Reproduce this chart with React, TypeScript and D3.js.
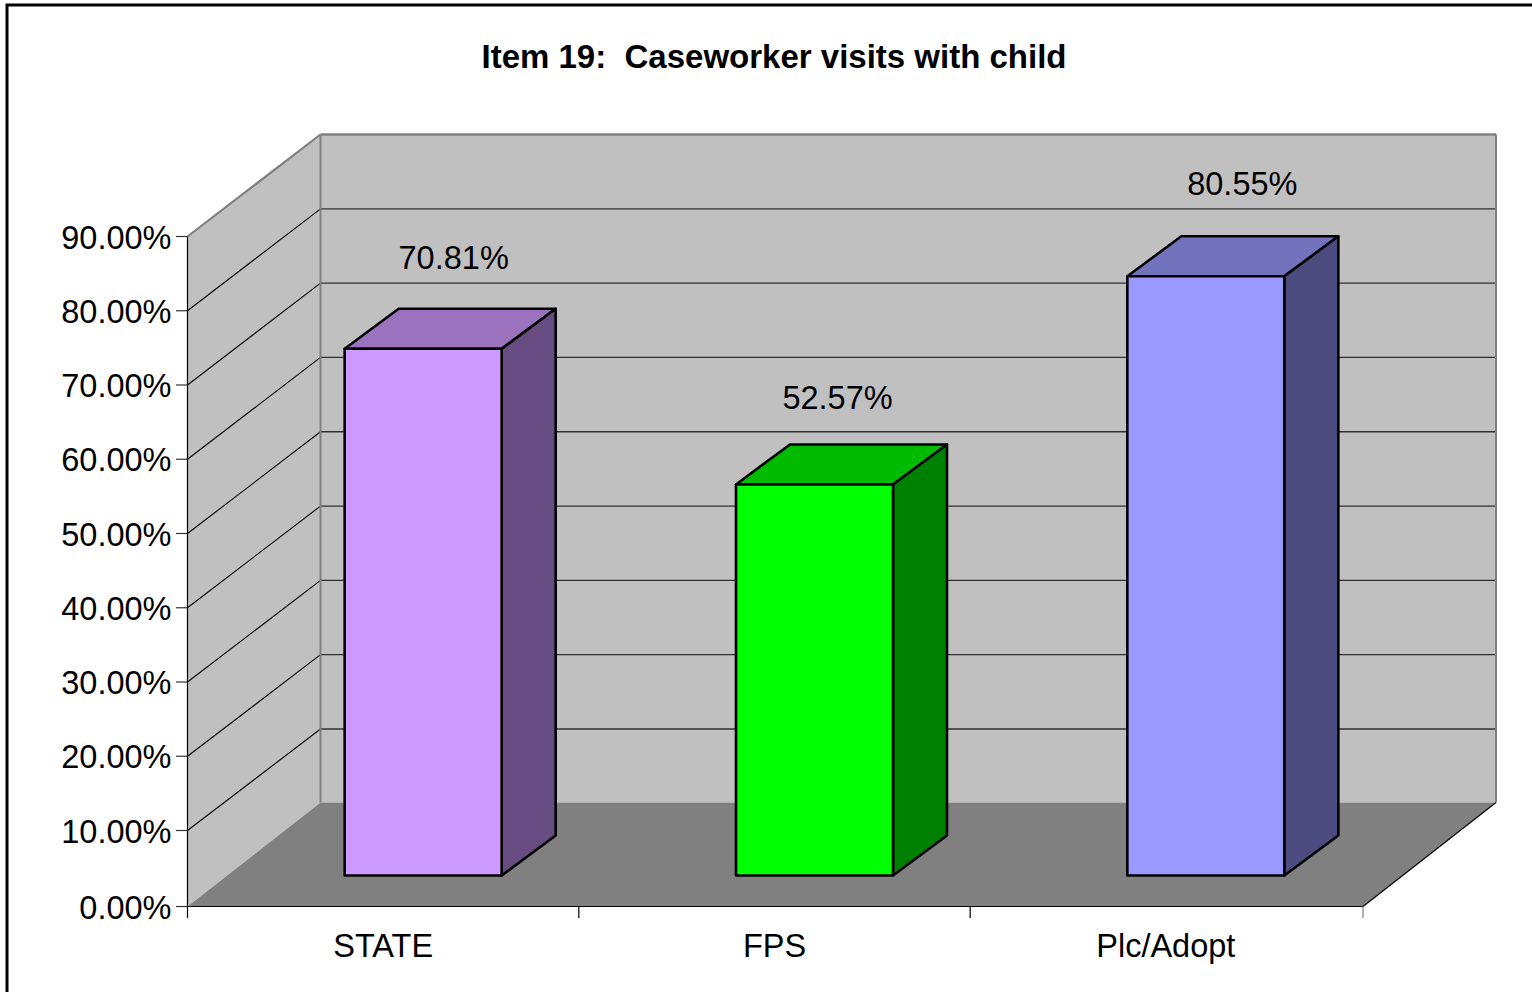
import React from "react";
import * as d3 from "d3";

const categories = ["STATE", "FPS", "Plc/Adopt"];
const values = [70.81, 52.57, 80.55];
const valueLabels = ["70.81%", "52.57%", "80.55%"];
const frontFills = ["#CC99FF", "#00FF00", "#9999FF"];
const topFills = ["#9B72BD", "#00BB00", "#7272BD"];
const sideFills = ["#664C80", "#008000", "#4C4C80"];
const tickValues = [0, 10, 20, 30, 40, 50, 60, 70, 80, 90];
const titleText = "Item 19:  Caseworker visits with child";

const FONT = "'Liberation Sans', Arial, sans-serif";
const DX = 133;
const floorEnd = 1363;
const barDepthX = 54;
const barDepthY = 40;
const barNearX = 40;

const x = d3.scaleBand<string>().domain(categories).range([187.5, 1361.5]);
const yFront = d3.scaleLinear().domain([0, 10, 90]).range([906.5, 830.5, 236.5]);
const yBack = d3.scaleLinear().domain([0, 10, 90]).range([802.5, 729, 134.5]);
const barH = d3.scaleLinear().domain([0, 90]).range([0, 669.5]);

const pts = (p: number[][]) => p.map((q) => q.join(",")).join(" ");

export default function App() {
  const x0 = x.range()[0];
  const bw = x.bandwidth();
  const backW = floorEnd - x0;
  const barW = 157;
  const base = 875.5;
  // hand-placed label nudges, as in the reference
  const nudgeX = [0, -7.5, 6];
  const nudgeY = [0.5, 5, -1];
  return (
    <svg
      width={1532}
      height={992}
      style={{ position: "absolute", left: 0, top: 0, background: "#fff" }}
      fontFamily={FONT}
    >
      <rect x={7} y={5} width={1540} height={1000} fill="#fff" stroke="#000" strokeWidth={3} />
      <text x={774} y={68} textAnchor="middle" fontSize={33} fontWeight="bold" fill="#000" xmlSpace="preserve">
        {titleText}
      </text>

      <polygon
        points={pts([
          [x0, yFront(0)],
          [x0 + DX, yBack(0)],
          [x0 + DX, yBack(90)],
          [x0, yFront(90)],
        ])}
        fill="#C0C0C0"
      />
      <rect x={x0 + DX} y={yBack(90)} width={backW} height={yBack(0) - yBack(90)} fill="#C0C0C0" />
      <polygon
        points={pts([
          [x0, yFront(0)],
          [floorEnd, yFront(0)],
          [floorEnd + DX, yBack(0)],
          [x0 + DX, yBack(0)],
        ])}
        fill="#808080"
      />
      {tickValues.slice(1).map((t) => (
        <g key={t}>
          <line
            x1={x0}
            y1={yFront(t)}
            x2={x0 + DX}
            y2={yBack(t)}
            stroke={t === 90 ? "#808080" : "#000"}
            strokeWidth={t === 90 ? 2.2 : 1.1}
          />
          <line
            x1={x0 + DX}
            y1={yBack(t)}
            x2={floorEnd + DX}
            y2={yBack(t)}
            stroke={t === 90 ? "#808080" : "#303030"}
            strokeWidth={t === 90 ? 2.6 : 1.3}
          />
        </g>
      ))}
      <line x1={x0 + DX} y1={yBack(90)} x2={x0 + DX} y2={yBack(0)} stroke="#808080" strokeWidth={2} />
      <line x1={floorEnd + DX} y1={yBack(90)} x2={floorEnd + DX} y2={yBack(0)} stroke="#808080" strokeWidth={2} />
      <line x1={floorEnd} y1={yFront(0)} x2={floorEnd + DX} y2={yBack(0)} stroke="#000" strokeWidth={1.2} />

      <line x1={x0} y1={yFront(90)} x2={x0} y2={918} stroke="#000" strokeWidth={1.2} />
      <line x1={x0} y1={yFront(0)} x2={floorEnd} y2={yFront(0)} stroke="#000" strokeWidth={1.2} />
      {tickValues.map((t) => (
        <g key={t}>
          <line x1={176} y1={yFront(t)} x2={x0} y2={yFront(t)} stroke="#333" strokeWidth={1.2} />
          <text x={171.5} y={yFront(t) + 12} textAnchor="end" fontSize={32.5} fill="#000">
            {t.toFixed(2)}%
          </text>
        </g>
      ))}
      {categories.map((c, i) => {
        const tx = i === categories.length - 1 ? floorEnd : (x(c) as number) + bw;
        return (
          <g key={c}>
            <line x1={tx} y1={yFront(0)} x2={tx} y2={918} stroke={i === 2 ? "#808080" : "#000"} strokeWidth={1.2} />
            <text x={(x(c) as number) + bw / 2} y={957} textAnchor="middle" fontSize={32.5} fill="#000">
              {c}
            </text>
          </g>
        );
      })}

      {categories.map((c, i) => {
        const left = (x(c) as number) + bw / 2 + barNearX - barW / 2;
        const right = left + barW;
        const top = base - barH(values[i]);
        return (
          <g key={c} stroke="#000" strokeWidth={2.6} strokeLinejoin="round">
            <polygon
              points={pts([
                [left, top],
                [left + barDepthX, top - barDepthY],
                [right + barDepthX, top - barDepthY],
                [right, top],
              ])}
              fill={topFills[i]}
            />
            <polygon
              points={pts([
                [right, top],
                [right + barDepthX, top - barDepthY],
                [right + barDepthX, base - barDepthY],
                [right, base],
              ])}
              fill={sideFills[i]}
            />
            <rect x={left} y={top} width={barW} height={base - top} fill={frontFills[i]} />
          </g>
        );
      })}

      {categories.map((c, i) => {
        const left = (x(c) as number) + bw / 2 + barNearX - barW / 2;
        const top = base - barH(values[i]);
        return (
          <text
            key={c}
            x={left + 109 + nudgeX[i]}
            y={top - 80 + nudgeY[i]}
            textAnchor="middle"
            fontSize={32.5}
            fill="#000"
          >
            {valueLabels[i]}
          </text>
        );
      })}
    </svg>
  );
}
